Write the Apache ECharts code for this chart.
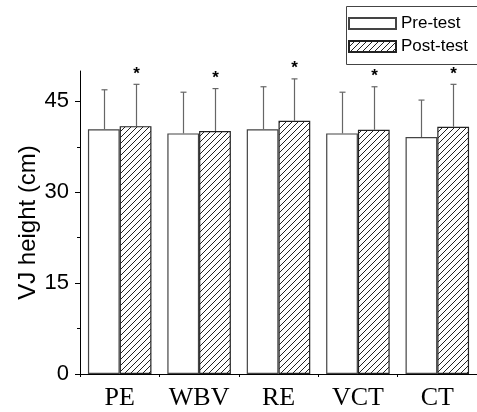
<!DOCTYPE html>
<html>
<head>
<meta charset="utf-8">
<script src="https://cdn.jsdelivr.net/npm/echarts@6/dist/echarts.min.js"></script>
<style>
html,body{margin:0;padding:0;background:#fff;}
#c{width:477px;height:412px;}
</style>
</head>
<body>
<div id="c"></div>
<script>
var categories = ['PE', 'WBV', 'RE', 'VCT', 'CT'];
var preMean = [40.4, 39.7, 40.4, 39.7, 39.1];
var preSD = [6.5, 6.8, 7.0, 6.8, 6.1];
var postMean = [40.9, 40.1, 41.8, 40.3, 40.8];
var postSD = [6.9, 7.0, 6.9, 7.1, 7.0];
var majorTicks = [0, 15, 30, 45];
var minorTicks = [7.5, 22.5, 37.5];

function makeHatch() {
  var s = 6;
  var cv = document.createElement('canvas');
  cv.width = s; cv.height = s;
  var ctx = cv.getContext('2d');
  ctx.fillStyle = '#fff';
  ctx.fillRect(0, 0, s, s);
  ctx.strokeStyle = '#222';
  ctx.lineWidth = 1;
  ctx.beginPath();
  ctx.moveTo(-1, 1); ctx.lineTo(1, -1);
  ctx.moveTo(0, s); ctx.lineTo(s, 0);
  ctx.moveTo(s - 1, s + 1); ctx.lineTo(s + 1, s - 1);
  ctx.stroke();
  return cv;
}
var hatch = { image: makeHatch(), repeat: 'repeat' };

var barW = 0.4;
function errItem(means, sds, side, star) {
  return function (params, api) {
    var idx = api.value(0);
    var m = api.value(1);
    var sd = api.value(2);
    var band = api.size([1, 0])[0];
    var off = side * band * barW / 2;
    var p0 = api.coord([idx, m]);
    var p1 = api.coord([idx, m + sd]);
    var x = Math.round(p0[0] + off) + 0.5;
    var children = [
      { type: 'line', shape: { x1: x, y1: p0[1], x2: x, y2: p1[1] }, style: { stroke: '#666', lineWidth: 1.2 } },
      { type: 'line', shape: { x1: x - 3, y1: p1[1], x2: x + 3, y2: p1[1] }, style: { stroke: '#666', lineWidth: 1.2 } }
    ];
    if (star) {
      children.push({ type: 'text', style: { text: '*', x: x, y: p1[1] - 2, align: 'center', verticalAlign: 'bottom', fontSize: 17, fontFamily: 'Liberation Sans, Arial', fontWeight: 'bold', fill: '#000' } });
    }
    return { type: 'group', children: children };
  };
}

var chart = echarts.init(document.getElementById('c'));
chart.setOption({
  animation: false,
  backgroundColor: '#fff',
  grid: { left: 80, width: 405, top: 71, bottom: 38, containLabel: false },
  graphic: [{
    type: 'rect', left: 344, top: 4, silent: true,
    shape: { x: 0, y: 0, width: 160, height: 58 },
    style: { fill: 'none', stroke: '#444', lineWidth: 1 }
  }],
  legend: {
    data: ['Pre-test', 'Post-test'],
    orient: 'vertical',
    left: 344, top: 4,
    padding: [9.5, 4, 5.5, 4],
    itemWidth: 47, itemHeight: 11, itemGap: 3, itemTextGap: 4,
    borderWidth: 0,
    selectedMode: false,
    icon: 'rect',
    textStyle: { fontSize: 17, lineHeight: 20, color: '#000', fontFamily: 'Liberation Sans, Arial' }
  },
  xAxis: {
    type: 'category',
    data: categories,
    axisLine: { lineStyle: { color: '#000', width: 1 } },
    axisTick: { show: true, length: 3, lineStyle: { color: '#000' } },
    axisLabel: { color: '#000', fontSize: 26, fontFamily: 'Liberation Serif, Times New Roman', margin: 11 }
  },
  yAxis: [{
    type: 'value', min: 0, max: 50,
    name: 'VJ height (cm)', nameLocation: 'middle', nameGap: 40, nameMoveOverlap: false,
    nameTextStyle: { fontSize: 24, color: '#000', fontFamily: 'Liberation Sans, Arial' },
    axisLine: { show: true, lineStyle: { color: '#000', width: 1 } },
    axisTick: { show: true, length: 5, customValues: majorTicks, lineStyle: { color: '#000' } },
    axisLabel: { show: true, customValues: majorTicks, fontSize: 22, color: '#000', fontFamily: 'Liberation Sans, Arial', margin: 11 },
    splitLine: { show: false }
  }, {
    type: 'value', min: 0, max: 50, position: 'left',
    axisLine: { show: false },
    axisTick: { show: true, length: 3, customValues: minorTicks, lineStyle: { color: '#000' } },
    axisLabel: { show: false },
    splitLine: { show: false }
  }],
  series: [{
    name: 'Pre-test', type: 'bar', data: preMean,
    barWidth: '40%', barGap: '0%',
    itemStyle: { color: '#fff', borderColor: '#444', borderWidth: 1.2 }
  }, {
    name: 'Post-test', type: 'bar', data: postMean,
    barWidth: '40%', barGap: '0%',
    itemStyle: { color: hatch, borderColor: '#222', borderWidth: 1.2 }
  }, {
    name: 'preErr', type: 'custom', z: 5,
    renderItem: errItem(preMean, preSD, -1, false),
    data: categories.map(function (c, i) { return [i, preMean[i], preSD[i]]; })
  }, {
    name: 'postErr', type: 'custom', z: 5,
    renderItem: errItem(postMean, postSD, 1, true),
    data: categories.map(function (c, i) { return [i, postMean[i], postSD[i]]; })
  }]
});
</script>
</body>
</html>
